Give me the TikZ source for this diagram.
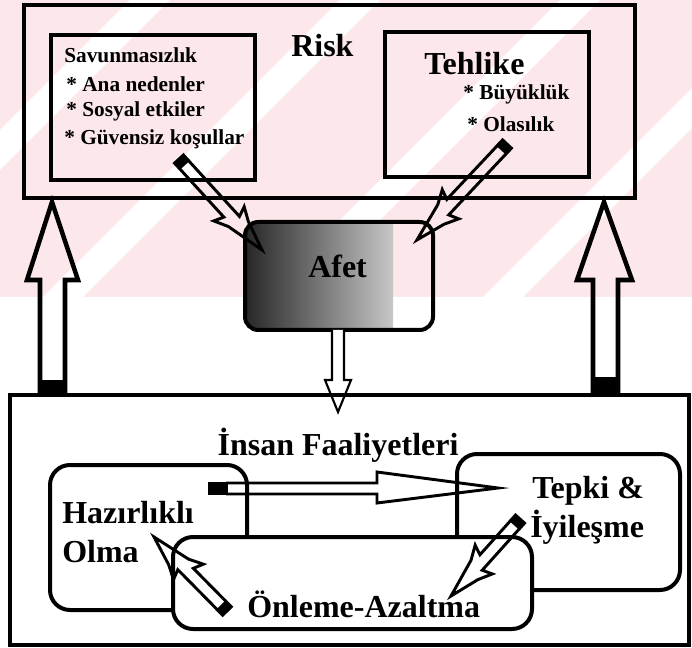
\documentclass[tikz,border=0pt]{standalone}
\usepackage{fontspec}
\setmainfont{Liberation Serif}
\usetikzlibrary{fit}
\definecolor{wpink}{RGB}{252,231,234}
\tikzset{
  bigt/.style={font=\fontsize{24}{26}\selectfont\bfseries, inner sep=0pt, anchor=base west},
  smallt/.style={font=\fontsize{16}{18}\selectfont\bfseries, inner sep=0pt, anchor=base west},
  sqbox/.style={draw, line width=3.6pt, inner sep=0pt},
  rbox/.style={draw, line width=3pt, inner sep=0pt, rounded corners=15pt},
  outline/.style={draw, line width=2.2pt, line join=miter},
  bigup/.style={draw, line width=3.4pt, line join=miter},
  pics/bolt/.style={code={
    \draw[outline] (9,6) -- (#1-50,6) -- (#1-54,16) -- (#1-40,9) -- (#1,0) -- (#1-30,-9) -- (#1-44,-16) -- (#1-40,-6) -- (9,-6);
    \fill (0,-7.5) rectangle (10,7.5);
  }},
}
\begin{document}
\begin{tikzpicture}[x=0.75pt,y=-0.75pt]
\useasboundingbox (0,0) rectangle (692,648);
% faint watermark of the scan
\fill[wpink] (0,0) rectangle (692,297);
\begin{scope}
  \clip (0,0) rectangle (692,297);
  \foreach \c in {130,340,560,780}
    \fill[white] (\c,0) -- (\c+40,0) -- (\c+40-297,297) -- (\c-297,297) -- cycle;
\end{scope}

% ---------- Risk ----------
\node[sqbox, fit={(24,5) (635,198)}] (risk) {};
\node[sqbox, fit={(51,35) (255,180)}] (savun) {};
\node[sqbox, fit={(385,32) (589,177)}] (tehlike) {};
\node[bigt] (risktxt) at (291,57) {Risk};
\node[smallt] (s0) at (64,63) {Savunmasızlık};
\node[smallt] (s1) at (66,92) {* Ana nedenler};
\node[smallt] (s2) at (66,117) {* Sosyal etkiler};
\node[smallt] (s3) at (64,145) {* Güvensiz koşullar};
\node[bigt] (t0) at (424,75) {Tehlike};
\node[smallt] (t1) at (463,100) {* Büyüklük};
\node[smallt] (t2) at (467,132) {* Olasılık};

% ---------- Afet ----------
\begin{scope}
  \clip[rounded corners=10pt] (245,222) rectangle (433,330);
  \shade[left color=black!85, right color=black!22] (245,222) rectangle (393,330);
\end{scope}
\node[draw, line width=3pt, inner sep=0pt, rounded corners=10pt, fit={(245,222) (433,330)}] (afet) {};
\node[bigt] (afettxt) at (308,278) {Afet};

% bolt arrows into Afet
\coordinate (a1s) at (178,158);
\coordinate (a2s) at (508,143);
\pic[rotate=-47.6] at (a1s) {bolt=124.6};
\pic[rotate=-133.2] at (a2s) {bolt=133};

% down arrow from Afet
\draw[line width=1.6pt, fill=white, line join=miter] (332,330) -- (332,380) -- (325,380) -- (338,412) -- (351,380) -- (344,380) -- (344,330);

% ---------- Insan Faaliyetleri ----------
\node[draw, line width=2.3pt, inner sep=0pt, fit={(10,395) (689,645)}] (insan) {};
\node[bigt, anchor=base] (insantxt) at (338,455) {İnsan Faaliyetleri};

% big up arrows
\draw[bigup] (40,395) -- (40,280) -- (27,280) -- (52,202) -- (78,280) -- (65,280) -- (65,395);
\fill (40,380) rectangle (65,395);
\draw[bigup] (593,395) -- (593,280) -- (577,280) -- (604,202) -- (632,280) -- (618,280) -- (618,395);
\fill (593,377) rectangle (618,395);

\node[rbox, fit={(50,465) (247,610)}] (hazir) {};
\node[rbox, fit={(457,454) (680,590)}] (tepki) {};
\node[rbox, fill=white, fit={(173,537) (532,629)}] (onleme) {};

\node[bigt] (h1) at (62,523) {Hazırlıklı};
\node[bigt] (h2) at (62,562) {Olma};
\node[bigt] (p1) at (532,498) {Tepki \&};
\node[bigt] (p2) at (530,537) {İyileşme};
\node[bigt] (o1) at (247,617) {Önleme-Azaltma};

% horizontal arrow
\draw[outline] (226,483) -- (377,483) -- (377,472) -- (498,488) -- (377,503) -- (377,494) -- (226,494);
\fill (208,482) rectangle (228,495);

% diagonal bolt arrows
\coordinate (a3s) at (521,518);
\coordinate (a4s) at (228,612);
\pic[rotate=-131.9] at (a3s) {bolt=104.8};
\pic[rotate=134.6] at (a4s) {bolt=105.4};
\end{tikzpicture}
\end{document}
